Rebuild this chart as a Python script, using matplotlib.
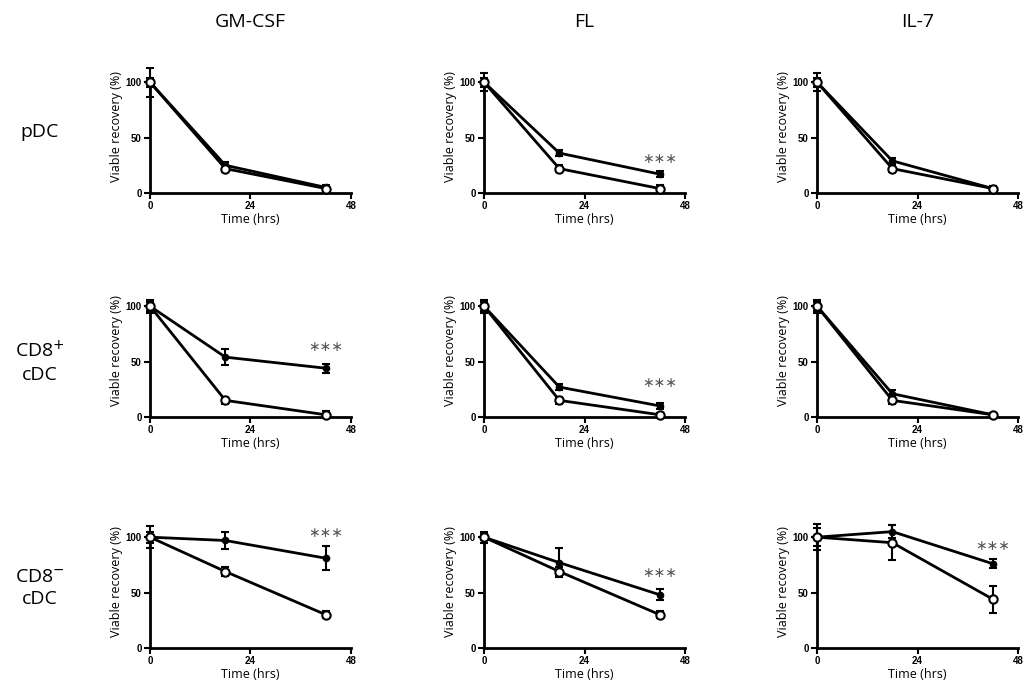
import matplotlib
matplotlib.use("Agg")
import matplotlib.pyplot as plt

# time points (hrs)
tempo = [0, 18, 42]

colunas = ["GM-CSF", "FL", "IL-7"]
linhas = ["pDC", "CD8$^{+}$\ncDC", "CD8$^{-}$\ncDC"]

# filled circles (mean, sem) per [row][col]
cheio = [
    [[100, 25, 5], [100, 36, 17], [100, 29, 4]],
    [[100, 54, 44], [100, 27, 10], [100, 21, 2]],
    [[100, 97, 81], [100, 77, 48], [100, 105, 76]],
]
cheio_err = [
    [[13, 3, 2], [8, 3, 3], [8, 3, 2]],
    [[6, 7, 4], [6, 3, 3], [6, 3, 2]],
    [[10, 8, 11], [5, 13, 5], [12, 6, 4]],
]
# open circles
aberto = [
    [[100, 22, 4], [100, 22, 4], [100, 22, 4]],
    [[100, 15, 2], [100, 15, 2], [100, 15, 2]],
    [[100, 69, 30], [100, 69, 30], [100, 95, 44]],
]
aberto_err = [
    [[4, 3, 2], [4, 3, 3], [4, 3, 2]],
    [[4, 3, 3], [4, 3, 2], [4, 3, 2]],
    [[5, 4, 3], [3, 4, 3], [8, 16, 12]],
]
# significance stars (y position in data units), None = no mark
estrelas = [
    [None, 31, None],
    [63, 31, None],
    [104, 68, 92],
]

fig = plt.figure(figsize=(10.33, 6.95), dpi=100)
W, H = 1033, 695
col_x = [150, 484, 817]
row_bottom = [193, 417, 648]
aw, ah = 201, 133

for i in range(3):
    for j in range(3):
        ax = fig.add_axes([col_x[j] / W, 1 - row_bottom[i] / H, aw / W, ah / H])
        ax.errorbar(tempo, cheio[i][j], yerr=cheio_err[i][j], color="black", lw=2,
                    marker="o", ms=4.5, mfc="black", mec="black", capsize=3, capthick=1.5,
                    elinewidth=1.5, clip_on=False, zorder=3)
        ax.errorbar(tempo, aberto[i][j], yerr=aberto_err[i][j], color="black", lw=2,
                    marker="o", ms=6, mfc="white", mec="black", mew=1.5, capsize=3,
                    capthick=1.5, elinewidth=1.5, clip_on=False, zorder=4)
        if estrelas[i][j] is not None:
            ax.text(42, estrelas[i][j], "\u2217\u2217\u2217", ha="center", va="center",
                    fontsize=10, color="#555555", family="DejaVu Sans")
        ax.set_xlim(0, 48)
        ax.set_ylim(0, 120)
        ax.set_xticks([0, 24, 48])
        ax.set_yticks([0, 50, 100])
        for s in ["top", "right"]:
            ax.spines[s].set_visible(False)
        ax.spines["left"].set_bounds(0, 100)
        for s in ["left", "bottom"]:
            ax.spines[s].set_linewidth(2)
        ax.tick_params(width=1.5, length=4, labelsize=7, pad=2)
        for lab in ax.get_xticklabels() + ax.get_yticklabels():
            lab.set_fontweight("bold")
            lab.set_family("Liberation Sans")
        ax.set_xlabel("Time (hrs)", fontsize=9, family="Open Sans", labelpad=1)
        ax.set_ylabel("Viable recovery (%)", fontsize=9, family="Open Sans", labelpad=2)

for j, nome in enumerate(colunas):
    fig.text((col_x[j] + aw / 2) / W, 1 - 22 / H, nome, ha="center", va="center",
             fontsize=14, family="Open Sans")

linha_y = [132, 362, 588]
for i, nome in enumerate(linhas):
    fig.text(40 / W, 1 - linha_y[i] / H, nome, ha="center", va="center",
             fontsize=14, family="Open Sans", linespacing=1.3)

fig.savefig("out.png", dpi=100)
